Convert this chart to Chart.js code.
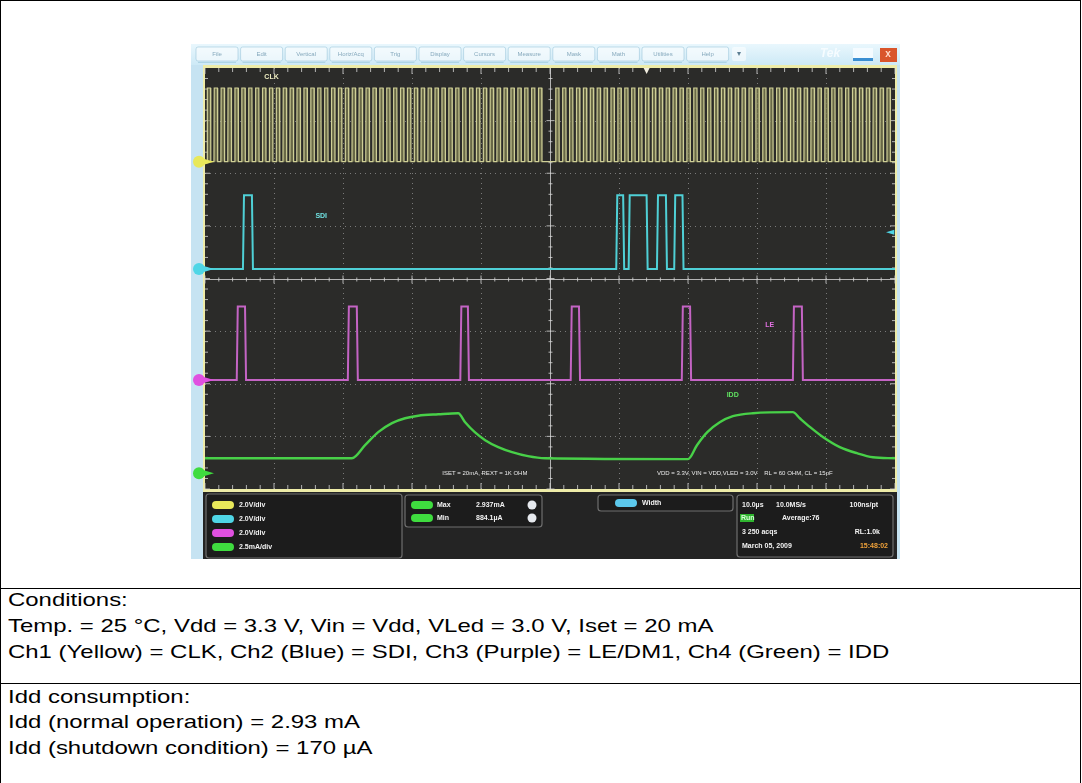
<!DOCTYPE html>
<html>
<head>
<meta charset="utf-8">
<script src="https://cdn.jsdelivr.net/npm/chart.js@4.4.0/dist/chart.umd.min.js"></script>
<style>
  html, body { margin: 0; padding: 0; background: #fff; }
  body { width: 1082px; height: 783px; position: relative; overflow: hidden; font-family: "Liberation Sans", Arial, sans-serif; }
  .hl { position: absolute; left: 1px; width: 1079px; height: 1px; background: #000; }
  .vl { position: absolute; top: 0; width: 1px; height: 783px; background: #000; }
  .txt { position: absolute; left: 8px; font-size: 19px; line-height: 20px; color: #000; white-space: nowrap;
         transform: scaleX(1.26); transform-origin: 0 50%; }
  #scope { position: absolute; left: 191px; top: 44px; width: 709px; height: 515px; }
</style>
</head>
<body>
<div class="hl" style="top:0"></div>
<div class="hl" style="top:588px"></div>
<div class="hl" style="top:683px"></div>
<div class="vl" style="left:0"></div>
<div class="vl" style="left:1080px"></div>

<div id="scope"><canvas id="c"></canvas></div>

<div class="txt" style="top:590px">Conditions:</div>
<div class="txt" style="top:616px">Temp. = 25 °C, Vdd = 3.3 V, Vin = Vdd, VLed = 3.0 V, Iset = 20 mA</div>
<div class="txt" style="top:642px">Ch1 (Yellow) = CLK, Ch2 (Blue) = SDI, Ch3 (Purple) = LE/DM1, Ch4 (Green) = IDD</div>
<div class="txt" style="top:687px">Idd consumption:</div>
<div class="txt" style="top:712px">Idd (normal operation) = 2.93 mA</div>
<div class="txt" style="top:738px">Idd (shutdown condition) = 170 µA</div>

<script>
// time axis: 10 div x 10 µs
const timeMin = 0;
const timeMax = 100;
const vDivs = 8;

// CLK rising edges (µs), each high for clkWidth
const clkRise = [
  0.3, 1.3, 2.3, 3.3, 4.3, 5.3, 6.3, 7.3, 8.3, 9.3, 10.3, 11.3, 12.3, 13.3, 14.3, 15.3,
  16.3, 17.3, 18.3, 19.3, 20.3, 21.3, 22.3, 23.3, 24.3, 25.3, 26.3, 27.3, 28.3, 29.3, 30.3, 31.3,
  32.3, 33.3, 34.3, 35.3, 36.3, 37.3, 38.3, 39.3, 40.3, 41.3, 42.3, 43.3, 44.3, 45.3, 46.3, 47.3, 48.3,
  50.8, 51.8, 52.8, 53.8, 54.8, 55.8, 56.8, 57.8, 58.8, 59.8, 60.8, 61.8, 62.8, 63.8, 64.8, 65.8,
  66.8, 67.8, 68.8, 69.8, 70.8, 71.8, 72.8, 73.8, 74.8, 75.8, 76.8, 77.8, 78.8, 79.8, 80.8, 81.8,
  82.8, 83.8, 84.8, 85.8, 86.8, 87.8, 88.8, 89.8, 90.8, 91.8, 92.8, 93.8, 94.8, 95.8, 96.8, 97.8, 98.8
];
const clkWidth = 0.5;

// SDI and LE high intervals (µs)
const sdiPulses = [[5.5, 6.8], [59.6, 60.6], [61.4, 64.0], [65.5, 66.8], [68.0, 69.2]];
const lePulses = [[4.6, 5.8], [20.7, 22.0], [37.0, 38.1], [53.0, 54.2], [69.1, 70.3], [85.2, 86.5]];
const logicHigh = 2.8; // V

// IDD current (mA)
const iddTime = [0, 21.3, 23.2, 25.1, 27.1, 29.0, 30.9, 33.8, 36.7, 37.7, 39.1, 40.6, 42.5, 44.5, 46.8, 49.3,
  70.0, 71.3, 72.8, 74.6, 76.5, 79.4, 85.2, 86.2, 87.7, 89.6, 92.0, 94.5, 96.8, 100];
const iddValue = [0.71, 0.71, 1.33, 1.95, 2.38, 2.61, 2.73, 2.80, 2.85, 2.42, 1.95, 1.57, 1.24, 1.00, 0.81, 0.71,
  0.67, 1.33, 1.95, 2.42, 2.71, 2.85, 2.90, 2.61, 2.19, 1.71, 1.24, 0.95, 0.76, 0.71];

const menuItems = ["File", "Edit", "Vertical", "Horiz/Acq", "Trig", "Display", "Cursors", "Measure", "Mask", "Math", "Utilities", "Help"];
const scaleLabels = ["2.0V/div", "2.0V/div", "2.0V/div", "2.5mA/div"];

// channel setup: volts (or mA) per div, ground level in divisions from bottom
const ch = {
  clk: { scale: 2.0, ground: 6.22, color: "#cfcf96", marker: "#e8e85a" },
  sdi: { scale: 2.0, ground: 4.18, color: "#4fd0d6", marker: "#4fd6e6" },
  le:  { scale: 2.0, ground: 2.07, color: "#c464c4", marker: "#e050e0" },
  idd: { scale: 2.5, ground: 0.30, color: "#48d048", marker: "#3fdc3f" },
};

function pulseTrace(pulses, edge, c, high) {
  const lo = c.ground, hi = c.ground + high / c.scale;
  const pts = [{ x: timeMin, y: lo }];
  pulses.forEach(([a, b]) => {
    pts.push({ x: a, y: lo }, { x: a + edge, y: hi }, { x: b, y: hi }, { x: b + edge, y: lo });
  });
  pts.push({ x: timeMax, y: lo });
  return pts;
}

const clkPts = pulseTrace(clkRise.map((t) => [t, t + clkWidth]), 0.04, ch.clk, logicHigh);
const sdiPts = pulseTrace(sdiPulses, 0.15, ch.sdi, logicHigh);
const lePts = pulseTrace(lePulses, 0.15, ch.le, logicHigh);
const iddPts = iddTime.map((t, i) => ({ x: t, y: ch.idd.ground + iddValue[i] / ch.idd.scale }));

const OX = 191, OY = 44; // canvas origin on the page

function rr(ctx, x, y, w, h, r) {
  ctx.beginPath();
  ctx.moveTo(x + r, y);
  ctx.arcTo(x + w, y, x + w, y + h, r);
  ctx.arcTo(x + w, y + h, x, y + h, r);
  ctx.arcTo(x, y + h, x, y, r);
  ctx.arcTo(x, y, x + w, y, r);
  ctx.closePath();
}

function text(ctx, s, x, y, color, font, align) {
  ctx.font = font || 'bold 7px "Liberation Sans", Arial';
  ctx.fillStyle = color;
  ctx.textAlign = align || "left";
  ctx.textBaseline = "middle";
  ctx.fillText(s, x - OX, y - OY);
}

const scopeFrame = {
  id: "scopeFrame",
  beforeDraw(chart) {
    const { ctx, chartArea: a, width, height } = chart;
    ctx.save();
    ctx.fillStyle = "#c6e3f2";
    ctx.fillRect(0, 0, width, height);

    // toolbar
    const g = ctx.createLinearGradient(0, 0, 0, 21);
    g.addColorStop(0, "#e9f7fd");
    g.addColorStop(1, "#cde9f6");
    ctx.fillStyle = g;
    ctx.fillRect(0, 0, width, 21);
    menuItems.forEach((m, i) => {
      const x = 196 + i * 44.6 - OX;
      rr(ctx, x, 3, 42, 14, 2);
      ctx.fillStyle = "rgba(255,255,255,0.55)";
      ctx.fill();
      ctx.strokeStyle = "rgba(150,195,218,0.7)";
      ctx.lineWidth = 0.8;
      ctx.stroke();
      text(ctx, m, x + 21 + OX, 54, "#86a9bd", '6px "Liberation Sans", Arial', "center");
      ctx.fillStyle = "rgba(140,190,210,0.5)";
      ctx.fillRect(x + 2, 18, 38, 1);
    });
    rr(ctx, 732 - OX, 3, 14, 14, 2);
    ctx.fillStyle = "rgba(255,255,255,0.55)";
    ctx.fill();
    text(ctx, "▾", 739, 54, "#5d7f93", '8px "DejaVu Sans"', "center");
    text(ctx, "Tek", 830, 54, "#f6fcff", 'bold italic 12px "Liberation Sans", Arial', "center");
    ctx.fillStyle = "#f4fbff";
    ctx.fillRect(853 - OX, 4, 20, 13);
    ctx.fillStyle = "#3b8fd2";
    ctx.fillRect(853 - OX, 14, 20, 3);
    ctx.fillStyle = "#d9552b";
    ctx.fillRect(880 - OX, 4, 17, 14);
    text(ctx, "x", 888, 54, "#ffd9c8", 'bold 10px "Liberation Sans", Arial', "center");

    // yellow frame, graticule and bottom panel
    ctx.fillStyle = "#eeeca8";
    ctx.fillRect(203 - OX, 65 - OY, 897 - 203, 492 - 65);
    ctx.fillStyle = "#2b2b29";
    ctx.fillRect(a.left, a.top, a.right - a.left, a.bottom - a.top);
    ctx.fillStyle = "#242424";
    ctx.fillRect(203 - OX, 492 - OY, 897 - 203, 559 - 492);
    ctx.restore();
  },
  beforeDatasetsDraw(chart) {
    const { ctx, chartArea: a, scales: { x, y } } = chart;
    ctx.save();
    ctx.lineWidth = 1;
    // dotted division lines
    ctx.strokeStyle = "rgba(150,150,150,0.75)";
    ctx.setLineDash([1, 4]);
    for (let t = 10; t < 100; t += 10) {
      if (t === 50) continue;
      const px = Math.round(x.getPixelForValue(t)) + 0.5;
      ctx.beginPath(); ctx.moveTo(px, a.top); ctx.lineTo(px, a.bottom); ctx.stroke();
    }
    for (let d = 1; d < vDivs; d++) {
      if (d === 4) continue;
      const py = Math.round(y.getPixelForValue(d)) + 0.5;
      ctx.beginPath(); ctx.moveTo(a.left, py); ctx.lineTo(a.right, py); ctx.stroke();
    }
    ctx.setLineDash([]);
    // center cross with minor ticks
    const cx = Math.round(x.getPixelForValue(50)) + 0.5;
    const cy = Math.round(y.getPixelForValue(4)) + 0.5;
    ctx.strokeStyle = "rgba(215,215,215,0.8)";
    ctx.beginPath();
    ctx.moveTo(cx, a.top); ctx.lineTo(cx, a.bottom);
    ctx.moveTo(a.left, cy); ctx.lineTo(a.right, cy);
    ctx.stroke();
    ctx.beginPath();
    for (let t = 0; t <= 100; t += 2) {
      const px = x.getPixelForValue(t);
      const len = t % 10 === 0 ? 4 : 2;
      ctx.moveTo(px, cy - len); ctx.lineTo(px, cy + len);
      ctx.moveTo(px, a.top); ctx.lineTo(px, a.top + len + 2);
      ctx.moveTo(px, a.bottom); ctx.lineTo(px, a.bottom - len - 2);
    }
    for (let d = 0; d <= vDivs; d += 0.2) {
      const py = y.getPixelForValue(d);
      const major = Math.abs(d - Math.round(d)) < 0.01;
      const len = major ? 4 : 2;
      ctx.moveTo(cx - len, py); ctx.lineTo(cx + len, py);
      ctx.moveTo(a.left, py); ctx.lineTo(a.left + len + 1, py);
      ctx.moveTo(a.right, py); ctx.lineTo(a.right - len - 1, py);
    }
    ctx.stroke();
    ctx.restore();
  },
  afterDatasetsDraw(chart) {
    const { ctx, scales: { x, y } } = chart;
    ctx.save();
    // ground markers on the left strip
    [ch.clk, ch.sdi, ch.le, ch.idd].forEach((c) => {
      const py = y.getPixelForValue(c.ground);
      ctx.fillStyle = c.marker;
      ctx.beginPath();
      ctx.arc(199 - OX, py, 6, 0, Math.PI * 2);
      ctx.fill();
      ctx.beginPath();
      ctx.moveTo(202 - OX, py - 3.5);
      ctx.lineTo(214 - OX, py);
      ctx.lineTo(202 - OX, py + 3.5);
      ctx.fill();
    });
    // trigger position and level markers
    const tp = x.getPixelForValue(64);
    ctx.fillStyle = "#f2eee0";
    ctx.beginPath();
    ctx.moveTo(tp - 3, 24); ctx.lineTo(tp + 3, 24); ctx.lineTo(tp, 30); ctx.fill();
    const tl = y.getPixelForValue(ch.sdi.ground + 1.4 / ch.sdi.scale);
    ctx.fillStyle = ch.sdi.marker;
    ctx.beginPath();
    ctx.moveTo(x.getPixelForValue(99.9), tl - 2.5);
    ctx.lineTo(x.getPixelForValue(98.7), tl);
    ctx.lineTo(x.getPixelForValue(99.9), tl + 2.5);
    ctx.fill();

    // trace labels
    const lab = (s, t, d, color, font) => {
      ctx.font = font || 'bold 7px "Liberation Sans", Arial';
      ctx.fillStyle = color;
      ctx.textAlign = "left";
      ctx.textBaseline = "middle";
      ctx.fillText(s, x.getPixelForValue(t), y.getPixelForValue(d));
    };
    lab("CLK", 8.6, 7.83, "#ecebc0");
    lab("SDI", 16.0, 5.19, "#6fe0e0");
    lab("LE", 81.2, 3.12, "#e070e0");
    lab("IDD", 75.6, 1.79, "#60e060");
    lab("ISET = 20mA, REXT = 1K OHM", 34.4, 0.30, "#e8e8e8", '6px "Liberation Sans", Arial');
    lab("VDD = 3.3V, VIN = VDD,VLED = 3.0V    RL = 60 OHM, CL = 15pF", 65.5, 0.30, "#e8e8e8", '6px "Liberation Sans", Arial');

    // bottom readout panels
    ctx.lineWidth = 1.2;
    ctx.strokeStyle = "#6e6e6e";
    [[206, 494, 196, 64], [405, 495, 137, 32], [598, 495, 135, 16], [737, 495, 156, 62]].forEach(([bx, by, bw, bh]) => {
      rr(ctx, bx - OX, by - OY, bw, bh, 3);
      ctx.fillStyle = "#1c1c1c";
      ctx.fill();
      ctx.stroke();
    });
    const pill = (px, py, color) => {
      rr(ctx, px - OX, py - 4 - OY, 22, 8, 4);
      ctx.fillStyle = color;
      ctx.fill();
    };
    const rowsY = [505, 519, 533, 547];
    [ch.clk.marker, ch.sdi.marker, ch.le.marker, ch.idd.marker].forEach((c, i) => {
      pill(212, rowsY[i], c);
      text(ctx, scaleLabels[i], 239, rowsY[i], "#f2f2f2");
    });
    pill(411, 505, ch.idd.marker);
    pill(411, 518, ch.idd.marker);
    text(ctx, "Max", 437, 505, "#f2f2f2");
    text(ctx, "Min", 437, 518, "#f2f2f2");
    text(ctx, "2.937mA", 476, 505, "#f2f2f2");
    text(ctx, "884.1µA", 476, 518, "#f2f2f2");
    ctx.fillStyle = "#e6e9ee";
    [505, 518].forEach((cy) => {
      ctx.beginPath(); ctx.arc(532 - OX, cy - OY, 4.5, 0, Math.PI * 2); ctx.fill();
    });
    pill(615, 503, "#5cc8ec");
    text(ctx, "Width", 642, 503, "#f2f2f2");
    text(ctx, "10.0µs", 742, 505, "#f2f2f2");
    text(ctx, "10.0MS/s", 776, 505, "#f2f2f2");
    text(ctx, "100ns/pt", 878, 505, "#f2f2f2", null, "right");
    ctx.fillStyle = "#2fb52f";
    ctx.fillRect(740 - OX, 514 - OY, 14, 8);
    text(ctx, "Run", 741, 518, "#d8ffd8");
    text(ctx, "Average:76", 782, 518, "#f2f2f2");
    text(ctx, "3 250 acqs", 742, 532, "#f2f2f2");
    text(ctx, "RL:1.0k", 880, 532, "#f2f2f2", null, "right");
    text(ctx, "March 05, 2009", 742, 546, "#f2f2f2");
    text(ctx, "15:48:02", 888, 546, "#f0a23a", null, "right");
    ctx.restore();
  },
};

const line = (data, color, extra) => Object.assign({
  data, borderColor: color, borderWidth: 2, pointRadius: 0, tension: 0, fill: false,
}, extra || {});

new Chart(document.getElementById("c"), {
  type: "line",
  data: {
    datasets: [
      line(iddPts, ch.idd.color, { borderWidth: 2.4, cubicInterpolationMode: "monotone" }),
      line(lePts, ch.le.color),
      line(sdiPts, ch.sdi.color),
      line(clkPts, ch.clk.color, { borderWidth: 1.2, fill: { value: ch.clk.ground }, backgroundColor: "rgba(125,125,82,0.75)" }),
    ],
  },
  options: {
    responsive: true,
    maintainAspectRatio: false,
    animation: false,
    layout: { padding: { left: 14, right: 5, top: 24, bottom: 70 } },
    plugins: { legend: { display: false }, tooltip: { enabled: false } },
    scales: {
      x: { type: "linear", min: timeMin, max: timeMax, display: false },
      y: { type: "linear", min: 0, max: vDivs, display: false },
    },
  },
  plugins: [scopeFrame],
});
</script>
</body>
</html>
